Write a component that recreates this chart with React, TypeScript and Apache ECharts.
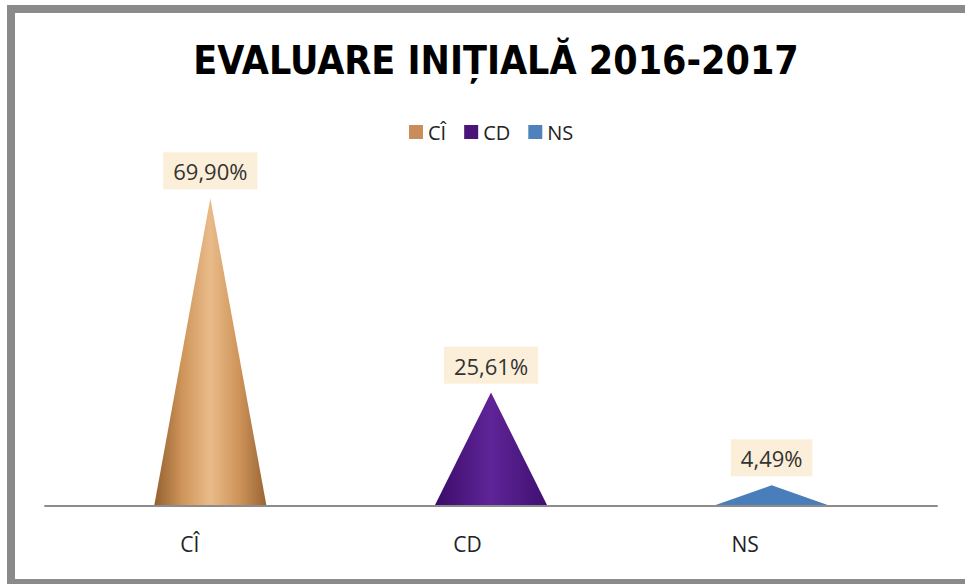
import React, { useEffect, useRef } from "react";
import * as echarts from "echarts";

const TITLE = "EVALUARE INIȚIALĂ 2016-2017";
const categories = ["CÎ", "CD", "NS"];
const values = [69.9, 25.61, 4.49];
const yMax = 80;

const coneColors = [
  new echarts.graphic.LinearGradient(0, 0, 1, 0, [
    { offset: 0, color: "#94602f" },
    { offset: 0.25, color: "#cf955a" },
    { offset: 0.5, color: "#e9bb89" },
    { offset: 0.75, color: "#cf955a" },
    { offset: 1, color: "#9a6434" },
  ]),
  new echarts.graphic.LinearGradient(0, 0, 1, 0, [
    { offset: 0, color: "#3a0c68" },
    { offset: 0.5, color: "#5f2498" },
    { offset: 1, color: "#3f1070" },
  ]),
  "#4a7ebb",
];
const legendColors = ["#c98d5c", "#4b1478", "#4f81bd"];

const fmt = (v: number) => v.toFixed(2).replace(".", ",") + "%";

export default function App() {
  const ref = useRef<HTMLDivElement>(null);
  useEffect(() => {
    if (!ref.current) return;
    const chart = echarts.init(ref.current, undefined, { renderer: "svg" });
    const font = "'Open Sans', 'Noto Sans', sans-serif";
    chart.setOption({
      animation: false,
      backgroundColor: "#ffffff",
      textStyle: { fontFamily: font },
      title: {
        text: TITLE,
        left: 491,
        textAlign: "center",
        top: 36,
        textStyle: {
          fontFamily: "'DejaVu Sans Condensed', 'Open Sans', sans-serif",
          fontWeight: "bold",
          fontSize: 39,
          color: "#000000",
        },
      },
      legend: {
        top: 117,
        left: 404,
        itemWidth: 14,
        itemHeight: 14,
        itemGap: 18,
        icon: "rect",
        textStyle: { fontSize: 20, color: "#222", fontFamily: font },
        data: categories.map((c, i) => ({
          name: c,
          itemStyle: { color: legendColors[i] },
        })),
      },
      grid: [
        { left: 70, right: 53, top: 154, bottom: 79 },
        { left: 51, right: 81, top: 154, bottom: 79 },
        { left: 45, right: 28, top: 154, bottom: 78 },
      ],
      xAxis: [
        {
          gridIndex: 0,
          type: "category",
          data: categories,
          show: false,
        },
        {
          gridIndex: 1,
          type: "category",
          data: categories,
          axisLine: { show: false },
          axisTick: { show: false },
          axisLabel: { fontSize: 21, color: "#222", margin: 28, fontFamily: font },
        },
        {
          gridIndex: 2,
          type: "category",
          data: categories,
          axisLine: { show: true, lineStyle: { color: "#8c8c8c", width: 2 } },
          axisTick: { show: false },
          axisLabel: { show: false },
        },
      ],
      yAxis: [0, 1, 2].map((g) => ({
        gridIndex: g,
        type: "value",
        min: 0,
        max: yMax,
        show: false,
      })),
      series: categories.map((name, i) => ({
        type: "pictorialBar",
        name,
        xAxisIndex: 0,
        yAxisIndex: 0,
        symbol: "triangle",
        symbolSize: [112, "100%"],
        barGap: "-100%",
        itemStyle: { color: coneColors[i] },
        label: {
          show: true,
          position: "top",
          distance: 9,
          formatter: (p: any) => fmt(p.value),
          backgroundColor: "#fcefd9",
          padding: [8, 10, 7, 10],
          fontSize: 22,
          color: "#333",
          fontFamily: font,
        },
        data: values.map((v, j) => (j === i ? v : null)),
      })),
      graphic: [
        {
          type: "rect",
          shape: { x: 11, y: 9, width: 1000, height: 574 },
          style: { fill: "none", stroke: "#8a8a8a", lineWidth: 8 },
          silent: true,
        },
      ],
    });
    return () => chart.dispose();
  }, []);
  return (
    <div
      ref={ref}
      style={{ position: "fixed", left: 0, top: 0, width: 965, height: 584 }}
    />
  );
}
